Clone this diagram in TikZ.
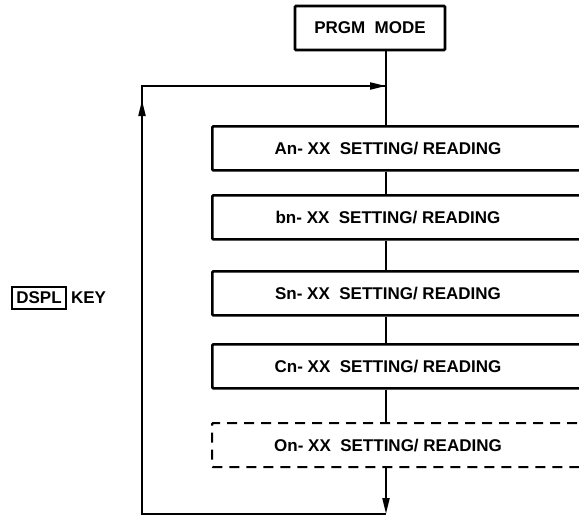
\documentclass[tikz,border=0pt]{standalone}
\usepackage{fontspec}
\setmainfont{Liberation Sans}
\usetikzlibrary{arrows.meta,positioning,calc}

\begin{document}
\begin{tikzpicture}[x=1pt, y=-1pt,
  stepbox/.style={draw, line width=2.7pt, rounded corners=1pt, minimum width=400pt, minimum height=44pt, anchor=north west, inner sep=0pt},
  optbox/.style={stepbox, line width=2.2pt, dash pattern=on 10pt off 7pt},
  steptext/.style={font=\fontsize{17}{20}\selectfont\bfseries},
  modebox/.style={draw, line width=2.7pt, rounded corners=1pt, minimum width=150pt, minimum height=44pt, steptext},
  keybox/.style={draw, line width=1.8pt, inner xsep=4pt, inner ysep=5pt, steptext},
  flow/.style={line width=2pt},
  arr/.style={flow, -{Triangle[length=16pt, width=7pt]}},
]
\useasboundingbox (0,0) rectangle (579,517);
\clip (0,0) rectangle (579,517);

% Mode
\node[modebox] (mode) at (370,28) {PRGM\ \ MODE};
\coordinate (spine) at (386,86);

% Steps
\node[stepbox] (Abox) at (211,125) {};
\node[stepbox] (bbox) at (211,194) {};
\node[stepbox] (Sbox) at (211,270) {};
\node[stepbox] (Cbox) at (211,343) {};
\node[optbox]  (Obox) at (211,422) {};

\node[steptext] (Atext) at (Abox.center -| 388,0) {An- XX\ \ SETTING/ READING};
\node[steptext] (btext) at (bbox.center -| 388,0) {bn- XX\ \ SETTING/ READING};
\node[steptext] (Stext) at (Sbox.center -| 388,0) {Sn- XX\ \ SETTING/ READING};
\node[steptext] (Ctext) at (Cbox.center -| 388,0) {Cn- XX\ \ SETTING/ READING};
\node[steptext] (Otext) at (Obox.center -| 388,0) {On- XX\ \ SETTING/ READING};

% Key
\node[keybox] (dspl) at (39,298) {DSPL};
\node[steptext, right=1pt of dspl] (key) {KEY};

% Main line
\draw[flow] (mode.south -| spine) -- (Abox.north -| spine);
\draw[flow] (Abox.south -| spine) -- (bbox.north -| spine);
\draw[flow] (bbox.south -| spine) -- (Sbox.north -| spine);
\draw[flow] (Sbox.south -| spine) -- (Cbox.north -| spine);
\draw[flow] (Cbox.south -| spine) -- (Obox.north -| spine);

% Loop back
\coordinate (loopbr) at (386,514);
\coordinate (loopbl) at (142,514);
\coordinate (looptl) at (142,86);
\coordinate (looptip) at (142,100);
\draw[arr] (Obox.south -| spine) -- (loopbr);
\draw[flow] (loopbr) -- (loopbl) -- (looptl) -- (spine);
\draw[arr] (loopbl) -- (looptip);
\draw[arr] (looptl) -- (spine);

\end{tikzpicture}
\end{document}
